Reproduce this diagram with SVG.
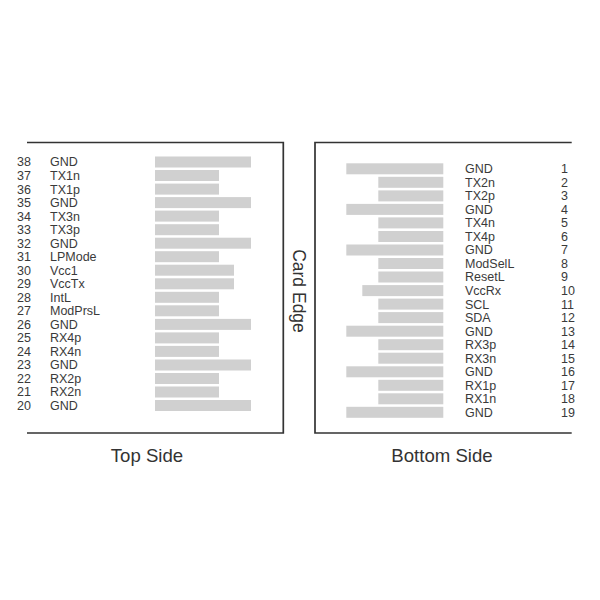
<svg xmlns="http://www.w3.org/2000/svg" width="600" height="600" viewBox="0 0 600 600">
<style>
.t{font-family:"Liberation Sans",Arial,sans-serif;font-size:12.5px;fill:#3a3a3a}
.big{font-family:"Liberation Sans",Arial,sans-serif;font-size:18.6px;fill:#333}
.bar{fill:#d0d0d0}
.frame{fill:none;stroke:#333;stroke-width:1.7}
</style>
<rect width="600" height="600" fill="#fff"/>
<g id="frames">
<polyline class="frame" points="27,142.5 283.3,142.5 283.3,433 27,433"/>
<polyline class="frame" points="571.7,142.5 315,142.5 315,433 571.7,433"/>
</g>
<g id="top-side">
<g class="bar">
<rect x="155" y="156.5" width="96" height="11"/>
<rect x="155" y="170" width="64" height="11"/>
<rect x="155" y="183.6" width="64" height="11"/>
<rect x="155" y="197.1" width="96" height="11"/>
<rect x="155" y="210.6" width="64" height="11"/>
<rect x="155" y="224.2" width="64" height="11"/>
<rect x="155" y="237.7" width="96" height="11"/>
<rect x="155" y="251.2" width="64" height="11"/>
<rect x="155" y="264.7" width="79" height="11"/>
<rect x="155" y="278.3" width="79" height="11"/>
<rect x="155" y="291.8" width="64" height="11"/>
<rect x="155" y="305.3" width="64" height="11"/>
<rect x="155" y="318.9" width="96" height="11"/>
<rect x="155" y="332.4" width="64" height="11"/>
<rect x="155" y="345.9" width="64" height="11"/>
<rect x="155" y="359.5" width="96" height="11"/>
<rect x="155" y="373" width="64" height="11"/>
<rect x="155" y="386.5" width="64" height="11"/>
<rect x="155" y="400" width="96" height="11"/>
</g>
<g class="t">
<text x="17" y="166.4">38</text><text x="50" y="166.4">GND</text>
<text x="17" y="179.9">37</text><text x="50" y="179.9">TX1n</text>
<text x="17" y="193.5">36</text><text x="50" y="193.5">TX1p</text>
<text x="17" y="207">35</text><text x="50" y="207">GND</text>
<text x="17" y="220.5">34</text><text x="50" y="220.5">TX3n</text>
<text x="17" y="234.1">33</text><text x="50" y="234.1">TX3p</text>
<text x="17" y="247.6">32</text><text x="50" y="247.6">GND</text>
<text x="17" y="261.1">31</text><text x="50" y="261.1">LPMode</text>
<text x="17" y="274.6">30</text><text x="50" y="274.6">Vcc1</text>
<text x="17" y="288.2">29</text><text x="50" y="288.2">VccTx</text>
<text x="17" y="301.7">28</text><text x="50" y="301.7">IntL</text>
<text x="17" y="315.2">27</text><text x="50" y="315.2">ModPrsL</text>
<text x="17" y="328.8">26</text><text x="50" y="328.8">GND</text>
<text x="17" y="342.3">25</text><text x="50" y="342.3">RX4p</text>
<text x="17" y="355.8">24</text><text x="50" y="355.8">RX4n</text>
<text x="17" y="369.4">23</text><text x="50" y="369.4">GND</text>
<text x="17" y="382.9">22</text><text x="50" y="382.9">RX2p</text>
<text x="17" y="396.4">21</text><text x="50" y="396.4">RX2n</text>
<text x="17" y="409.9">20</text><text x="50" y="409.9">GND</text>
</g>
<text class="big" x="147" y="462" text-anchor="middle">Top Side</text>
</g>
<g id="bottom-side">
<g class="bar">
<rect x="346.3" y="163.3" width="97" height="11"/>
<rect x="378.3" y="176.8" width="65" height="11"/>
<rect x="378.3" y="190.4" width="65" height="11"/>
<rect x="346.3" y="203.9" width="97" height="11"/>
<rect x="378.3" y="217.4" width="65" height="11"/>
<rect x="378.3" y="231" width="65" height="11"/>
<rect x="346.3" y="244.5" width="97" height="11"/>
<rect x="378.3" y="258" width="65" height="11"/>
<rect x="378.3" y="271.5" width="65" height="11"/>
<rect x="362.3" y="285.1" width="81" height="11"/>
<rect x="378.3" y="298.6" width="65" height="11"/>
<rect x="378.3" y="312.1" width="65" height="11"/>
<rect x="346.3" y="325.7" width="97" height="11"/>
<rect x="378.3" y="339.2" width="65" height="11"/>
<rect x="378.3" y="352.7" width="65" height="11"/>
<rect x="346.3" y="366.3" width="97" height="11"/>
<rect x="378.3" y="379.8" width="65" height="11"/>
<rect x="378.3" y="393.3" width="65" height="11"/>
<rect x="346.3" y="406.8" width="97" height="11"/>
</g>
<g class="t">
<text x="465" y="173.2">GND</text><text x="561" y="173.2">1</text>
<text x="465" y="186.7">TX2n</text><text x="561" y="186.7">2</text>
<text x="465" y="200.3">TX2p</text><text x="561" y="200.3">3</text>
<text x="465" y="213.8">GND</text><text x="561" y="213.8">4</text>
<text x="465" y="227.3">TX4n</text><text x="561" y="227.3">5</text>
<text x="465" y="240.9">TX4p</text><text x="561" y="240.9">6</text>
<text x="465" y="254.4">GND</text><text x="561" y="254.4">7</text>
<text x="465" y="267.9">ModSelL</text><text x="561" y="267.9">8</text>
<text x="465" y="281.4">ResetL</text><text x="561" y="281.4">9</text>
<text x="465" y="295">VccRx</text><text x="561" y="295">10</text>
<text x="465" y="308.5">SCL</text><text x="561" y="308.5">11</text>
<text x="465" y="322">SDA</text><text x="561" y="322">12</text>
<text x="465" y="335.6">GND</text><text x="561" y="335.6">13</text>
<text x="465" y="349.1">RX3p</text><text x="561" y="349.1">14</text>
<text x="465" y="362.6">RX3n</text><text x="561" y="362.6">15</text>
<text x="465" y="376.2">GND</text><text x="561" y="376.2">16</text>
<text x="465" y="389.7">RX1p</text><text x="561" y="389.7">17</text>
<text x="465" y="403.2">RX1n</text><text x="561" y="403.2">18</text>
<text x="465" y="416.7">GND</text><text x="561" y="416.7">19</text>
</g>
<text class="big" x="442" y="462" text-anchor="middle">Bottom Side</text>
</g>
<g id="card-edge">
<text class="big" transform="translate(292.5,291) rotate(90)" text-anchor="middle" style="font-size:17.5px">Card Edge</text>
</g>
</svg>
